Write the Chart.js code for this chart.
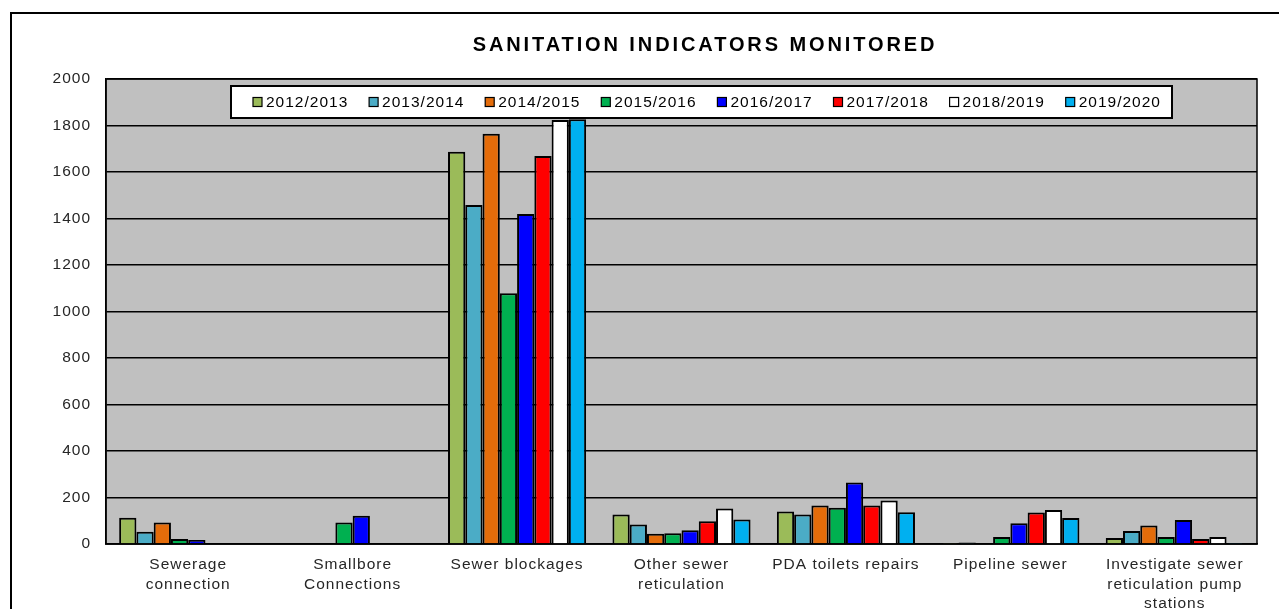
<!DOCTYPE html>
<html>
<head>
<meta charset="utf-8">
<script src="https://cdn.jsdelivr.net/npm/chart.js@4/dist/chart.umd.min.js"></script>
<style>
  html, body { margin: 0; padding: 0; background: #fff; overflow: hidden; }
  #wrap { position: relative; width: 1279px; height: 609px; }
</style>
</head>
<body>
<div id="wrap"><canvas id="chart" width="1279" height="609"></canvas></div>
<script>
const chartTitle = 'SANITATION INDICATORS MONITORED';

const categories = [
  ['Sewerage', 'connection'],
  ['Smallbore', 'Connections'],
  'Sewer blockages',
  ['Other sewer', 'reticulation'],
  'PDA toilets repairs',
  'Pipeline sewer',
  ['Investigate sewer', 'reticulation pump', 'stations']
];

const seasons = ['2012/2013', '2013/2014', '2014/2015', '2015/2016', '2016/2017', '2017/2018', '2018/2019', '2019/2020'];
const seasonColors = ['#9bbb59', '#4bacc6', '#e46c0a', '#00b050', '#0000ff', '#ff0000', '#ffffff', '#00b0f0'];

const y2012 = [113, 0, 1687, 127, 140, 2, 26];
const y2013 = [53, 0, 1458, 84, 127, 6, 56];
const y2014 = [92, 0, 1765, 44, 166, 0, 80];
const y2015 = [21, 92, 1078, 46, 156, 30, 30];
const y2016 = [17, 122, 1419, 59, 265, 89, 103];
const y2017 = [0, 0, 1669, 98, 166, 136, 22];
const y2018 = [0, 0, 1824, 153, 187, 146, 30];
const y2019 = [0, 0, 1827, 105, 137, 112, 2];

const yTicks = [0, 200, 400, 600, 800, 1000, 1200, 1400, 1600, 1800, 2000];

const seriesValues = [y2012, y2013, y2014, y2015, y2016, y2017, y2018, y2019];
const FONT = '"Liberation Sans", Arial, sans-serif';

// the original's text is drawn a little wide, so space the letters out
const spacing = {
  id: 'spacing',
  beforeUpdate(chart) { chart.ctx.letterSpacing = '1px'; },
  beforeDraw(chart) { chart.ctx.letterSpacing = '1px'; }
};

// plot background, outer frame and title
const backdrop = {
  id: 'backdrop',
  beforeDraw(chart) {
    const { ctx, chartArea: a } = chart;
    ctx.save();
    ctx.fillStyle = '#c0c0c0';
    ctx.fillRect(a.left, a.top, a.right - a.left, a.bottom - a.top);
    ctx.strokeStyle = '#000';
    ctx.lineWidth = 2;
    ctx.beginPath();
    ctx.moveTo(11, 609);
    ctx.lineTo(11, 13);
    ctx.lineTo(1279, 13);
    ctx.stroke();
    ctx.font = 'bold 20px ' + FONT;
    ctx.letterSpacing = '2.9px';
    ctx.fillStyle = '#000';
    ctx.textAlign = 'center';
    ctx.textBaseline = 'middle';
    ctx.fillText(chartTitle, 705, 45);
    ctx.restore();
  },
  beforeDatasetsDraw(chart) {
    const { ctx, chartArea: a } = chart;
    ctx.save();
    ctx.strokeStyle = '#000';
    ctx.lineWidth = 1.5;
    ctx.strokeRect(a.left, a.top, a.right - a.left, a.bottom - a.top);
    ctx.restore();
  }
};

// legend box sitting inside the plot area, like the Excel one
const boxLegend = {
  id: 'boxLegend',
  afterDraw(chart) {
    const { ctx } = chart;
    const left = 231, top = 86, w = 941, h = 32;
    ctx.save();
    ctx.fillStyle = '#fff';
    ctx.fillRect(left, top, w, h);
    ctx.strokeStyle = '#000';
    ctx.lineWidth = 2;
    ctx.strokeRect(left, top, w, h);
    ctx.font = '15.5px ' + FONT;
    ctx.letterSpacing = '1px';
    ctx.textBaseline = 'middle';
    ctx.textAlign = 'left';
    chart.data.datasets.forEach((ds, i) => {
      const x = 253 + i * 116.1;
      const cy = top + h / 2;
      ctx.fillStyle = ds.backgroundColor;
      ctx.fillRect(x, cy - 4.5, 9, 9);
      ctx.lineWidth = 1.2;
      ctx.strokeRect(x, cy - 4.5, 9, 9);
      ctx.fillStyle = '#000';
      ctx.fillText(ds.label, x + 13, cy + 1);
    });
    ctx.restore();
  }
};

const datasets = seasons.map((s, i) => ({
  label: s,
  data: seriesValues[i],
  backgroundColor: seasonColors[i],
  borderColor: '#000',
  borderWidth: 2,
  barPercentage: 1.0,
  categoryPercentage: 0.84
}));

new Chart(document.getElementById('chart').getContext('2d'), {
  type: 'bar',
  data: { labels: categories, datasets },
  plugins: [spacing, backdrop, boxLegend],
  options: {
    responsive: false,
    animation: false,
    layout: { padding: { top: 79, right: 22, left: 0, bottom: 0 } },
    scales: {
      x: {
        grid: { display: false, drawTicks: false },
        border: { display: true, color: '#000', width: 1.5 },
        ticks: {
          color: '#262626',
          font: { family: FONT, size: 15.5, lineHeight: 1.26 },
          padding: 11,
          maxRotation: 0,
          autoSkip: false
        },
        afterFit: (scale) => { scale.height = 65; }
      },
      y: {
        min: 0,
        max: 2000,
        afterBuildTicks: (scale) => { scale.ticks = yTicks.map(v => ({ value: v })); },
        grid: { color: '#000', lineWidth: 1.5, drawTicks: false },
        border: { display: true, color: '#000', width: 1.5 },
        ticks: {
          color: '#262626',
          font: { family: FONT, size: 15.5 },
          padding: 15,
          callback: (v) => String(v)
        },
        afterFit: (scale) => { scale.width = 106; }
      }
    },
    plugins: {
      legend: { display: false },
      title: { display: false },
      tooltip: { enabled: false }
    }
  }
});
</script>
</body>
</html>
